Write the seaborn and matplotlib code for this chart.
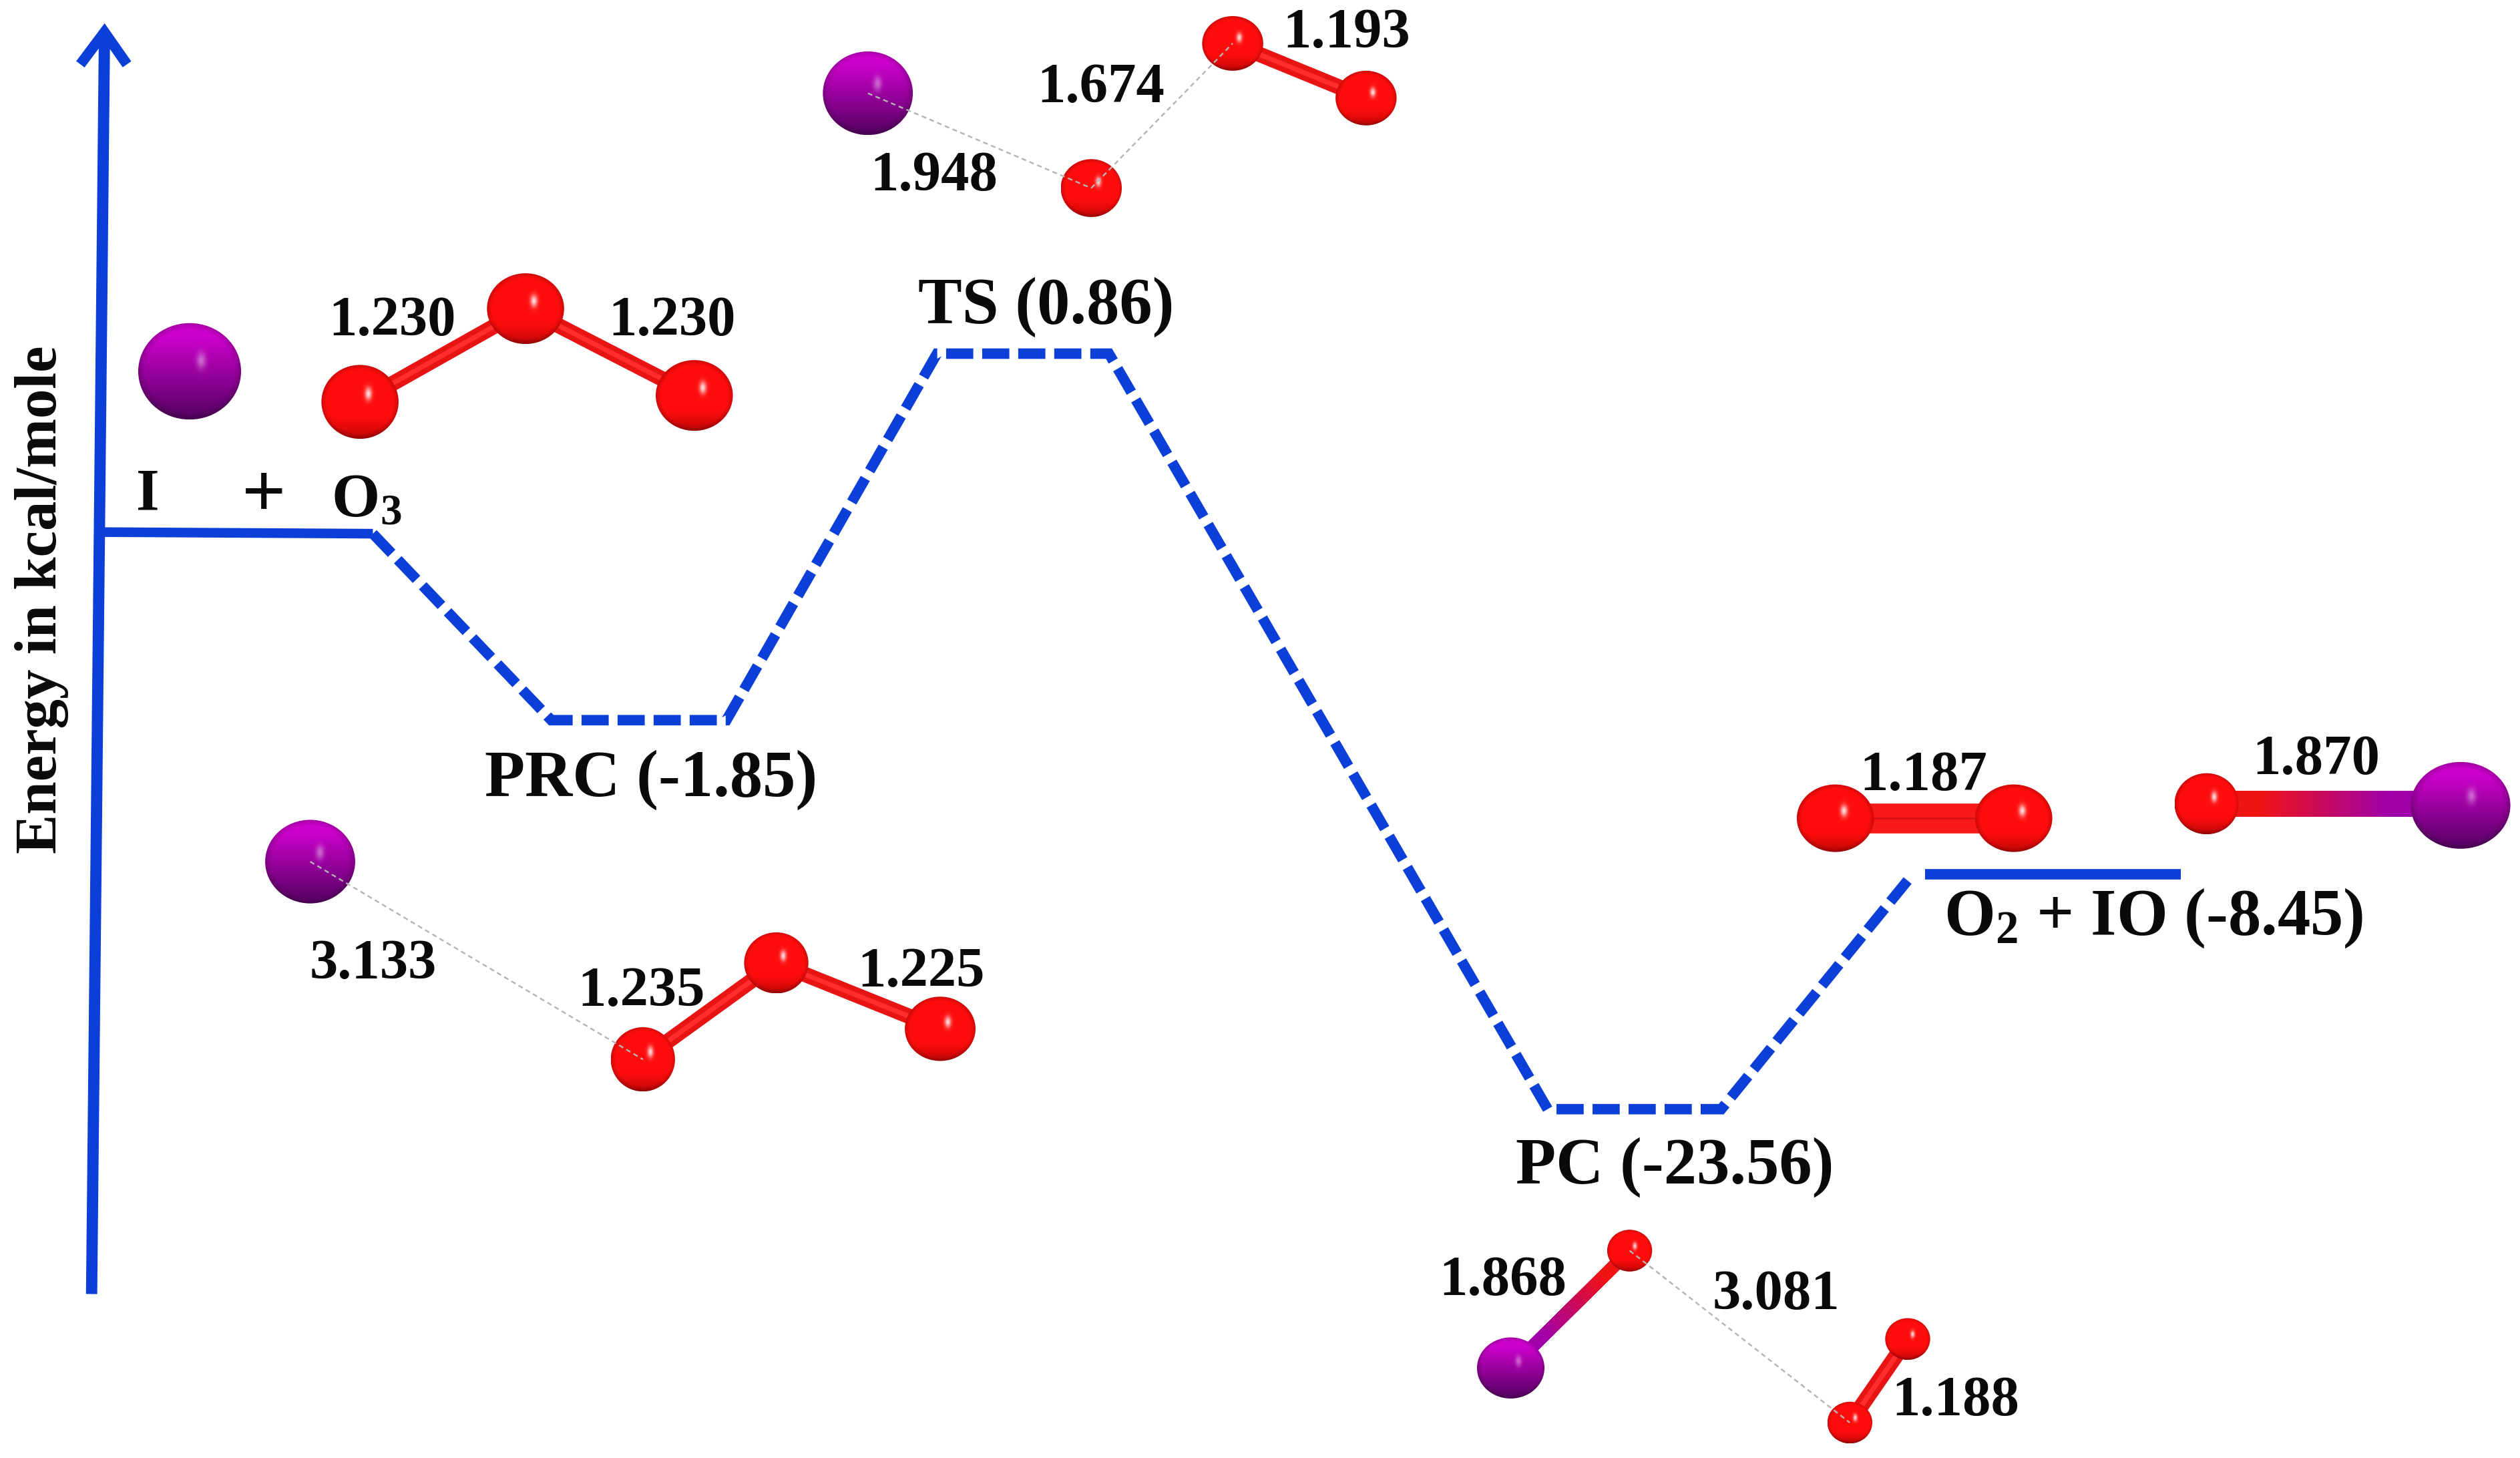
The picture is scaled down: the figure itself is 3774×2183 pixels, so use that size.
import numpy as np
import pandas as pd
import matplotlib
matplotlib.use("Agg")
import matplotlib.pyplot as plt
import seaborn as sns
from matplotlib.patches import Ellipse
from matplotlib.collections import LineCollection
from matplotlib.colors import to_rgb

sns.set_theme(style="white")
plt.rcParams["font.family"] = ["Liberation Serif", "DejaVu Serif"]
plt.rcParams["mathtext.fontset"] = "custom"
plt.rcParams["mathtext.rm"] = "Liberation Serif:bold"
plt.rcParams["mathtext.bf"] = "Liberation Serif:bold"
plt.rcParams["mathtext.it"] = "Liberation Serif:bold"

BLUE = "#0b3fd8"
W, H = 1568, 907  # diagram canvas units

# Reaction path, in diagram position
solid_in_x, solid_in_y = [62, 232], [331, 332]
dashed_x = [232, 343, 452, 583, 690, 963, 1071, 1190]
dashed_y = [332, 448, 448, 220, 220, 690, 690, 544]
solid_out_x, solid_out_y = [1198, 1357], [544, 544]
axis_x, axis_y = [57, 65], [805, 22]
head_x, head_y = [50, 65, 79], [40, 20, 40]

# Atoms: element, x, y, rx, ry
atoms = [
    ("I", 118, 231, 32, 30), ("O", 224, 250, 24, 23), ("O", 327, 192, 24, 22), ("O", 432, 246, 24, 22),
    ("I", 193, 536, 28, 26), ("O", 400, 659, 20, 20), ("O", 483, 599, 20, 19), ("O", 585, 640, 22, 20),
    ("I", 540, 58, 28, 26), ("O", 679, 117, 19, 18), ("O", 767, 27, 19, 17), ("O", 850, 61, 19, 17),
    ("O", 1142, 509, 24, 21), ("O", 1253, 509, 24, 21), ("O", 1373, 500, 20, 19), ("I", 1531, 501, 31, 27),
    ("I", 940, 851, 21, 19), ("O", 1014, 778, 14, 13), ("O", 1187, 833, 14, 13), ("O", 1151, 885, 14, 13),
]
# Bonds
red_bonds = [
    (224, 250, 327, 192), (327, 192, 432, 246),
    (400, 659, 483, 599), (483, 599, 585, 640),
    (767, 27, 850, 61), (1187, 833, 1151, 885),
]
double_bond = (1142, 509, 1253, 509)
mixed_bonds = [(1373, 500, 1531, 500, 16), (1014, 778, 940, 851, 8)]
weak_bonds = [
    (193, 536, 400, 659), (540, 58, 679, 117), (679, 117, 767, 27), (1014, 778, 1151, 885),
]

# Text: string, x, y
bond_labels = [
    ("1.230", 244, 200), ("1.230", 418, 200), ("1.948", 581, 110), ("1.674", 685, 55),
    ("1.193", 838, 21), ("3.133", 232, 600), ("1.235", 399, 617), ("1.225", 573, 605),
    ("1.187", 1197, 483), ("1.870", 1441, 473), ("1.868", 935, 797), ("3.081", 1105, 806),
    ("1.188", 1217, 872),
]
state_labels = [
    ("TS (0.86)", 651, 191), ("PRC (-1.85)", 405, 485), ("PC (-23.56)", 1042, 726),
    (r"O$_{2}$ + IO (-8.45)", 1340, 571),
]
reactant_labels = [("I", 92, 308, 64), ("+", 164, 310, 84), (r"O$_{3}$", 228, 312, 67)]
y_title = "Energy in kcal/mole"

fig = plt.figure(figsize=(37.74, 21.83), dpi=100, facecolor="white")
ax = fig.add_axes([0, 0, 1, 1])
PT = 3774 / W / (100 / 72)  # points per diagram unit


def line(x, y, width, color, z, **kw):
    df = pd.DataFrame({"x": x, "y": y})
    sns.lineplot(data=df, x="x", y="y", sort=False, estimator=None, ax=ax, color=color,
                 linewidth=width * PT, zorder=z, **kw)


# Energy axis and path
line(axis_x, axis_y, 7, BLUE, 2, solid_capstyle="butt")
line(head_x, head_y, 6.5, BLUE, 2, solid_capstyle="butt", solid_joinstyle="miter")
line(solid_in_x, solid_in_y, 6, BLUE, 2, solid_capstyle="butt")
line(solid_out_x, solid_out_y, 6.5, BLUE, 2, solid_capstyle="butt")
line(dashed_x, dashed_y, 6.5, BLUE, 2, dashes=(2.6, 0.85), dash_capstyle="butt", dash_joinstyle="miter")

# Bonds
for x0, y0, x1, y1 in red_bonds:
    line([x0, x1], [y0, y1], 9.5, "#e81414", 3, solid_capstyle="butt")
    line([x0, x1], [y0, y1], 3, "#ff2e2e", 3.1, solid_capstyle="butt")
x0, y0, x1, y1 = double_bond
line([x0, x1], [y0 - 4.8, y1 - 4.8], 9, "#f81818", 3, solid_capstyle="butt")
line([x0, x1], [y0 + 4.8, y1 + 4.8], 9, "#f81818", 3, solid_capstyle="butt")
line([x0, x1], [y0, y1], 1.2, "#d81010", 3.1, solid_capstyle="butt")
c_red, c_pur = np.array(to_rgb("#f01414")), np.array(to_rgb("#a000a8"))
for x0, y0, x1, y1, w in mixed_bonds:
    t = np.linspace(0, 1, 61)
    xs, ys = x0 + (x1 - x0) * t, y0 + (y1 - y0) * t
    segs = [[(xs[i], ys[i]), (xs[i + 1], ys[i + 1])] for i in range(60)]
    mix = np.clip((t[:-1] - 0.25) / 0.5, 0, 1)
    ax.add_collection(LineCollection(segs, colors=[c_red * (1 - m) + c_pur * m for m in mix],
                                     linewidths=w * PT, capstyle="projecting", zorder=3))


# Atoms, shaded spheres
def sphere(kind):
    n = 128
    v, u = np.mgrid[-1:1:n * 1j, -1:1:n * 1j]
    r2 = u ** 2 + v ** 2
    if kind == "O":
        top, bottom = np.array([1.0, 0.05, 0.05]), np.array([0.72, 0.02, 0.02])
        ramp = np.clip((v - 0.35) / 0.65, 0, 1)[..., None] ** 1.5
    else:
        top, bottom = np.array([0.80, 0.0, 0.80]), np.array([0.33, 0.0, 0.38])
        ramp = np.clip((v + 0.7) / 1.7, 0, 1)[..., None]
    img = top * (1 - ramp) + bottom * ramp
    img = img * (1 - 0.2 * np.clip((r2 - 0.75) / 0.25, 0, 1))[..., None]
    amp = 0.85 if kind == "O" else 0.4
    spot = amp * np.exp(-(((u - 0.22) / 0.09) ** 2 + ((v + 0.22) / 0.17) ** 2))
    img = img + (1 - img) * spot[..., None]
    return np.clip(img, 0, 1)


sprites = {"O": sphere("O"), "I": sphere("I")}
atom_df = pd.DataFrame(atoms, columns=["el", "x", "y", "rx", "ry"])
for el, col in (("O", "#e81010"), ("I", "#8a0090")):
    sub = atom_df[atom_df.el == el]
    sns.scatterplot(data=sub, x="x", y="y", s=(2 * sub[["rx", "ry"]].min(axis=1) * PT * 0.98) ** 2,
                    color=col, linewidth=0, ax=ax, zorder=4, legend=False)
for el, x, y, rx, ry in atoms:
    im = ax.imshow(sprites[el], extent=(x - rx, x + rx, y + ry, y - ry), aspect="auto",
                   interpolation="bilinear", zorder=5)
    im.set_clip_path(Ellipse((x, y), 2 * rx, 2 * ry, transform=ax.transData))

# Weak contacts
for x0, y0, x1, y1 in weak_bonds:
    line([x0, x1], [y0, y1], 1.0, "#b4b4b4", 6, dashes=(3, 2.2), dash_capstyle="butt")

# Text
for s, x, y in bond_labels:
    ax.text(x, y, s, fontsize=61, fontweight="bold", ha="center", va="center", color="#0a0a0a", zorder=7)
for s, x, y in state_labels:
    ax.text(x, y, s, fontsize=71, fontweight="bold", ha="center", va="center", color="#0a0a0a", zorder=7)
for s, x, y, fs in reactant_labels:
    ax.text(x, y, s, fontsize=fs, fontweight="bold", ha="center", va="center", color="#0a0a0a", zorder=7)
ax.text(26, 373, y_title, fontsize=64, fontweight="bold", rotation=90, ha="center", va="center",
        color="#0a0a0a", zorder=7)

ax.set_xlim(0, W)
ax.set_ylim(H, 0)
ax.set_axis_off()
fig.savefig("out.png", dpi=100, facecolor="white")
